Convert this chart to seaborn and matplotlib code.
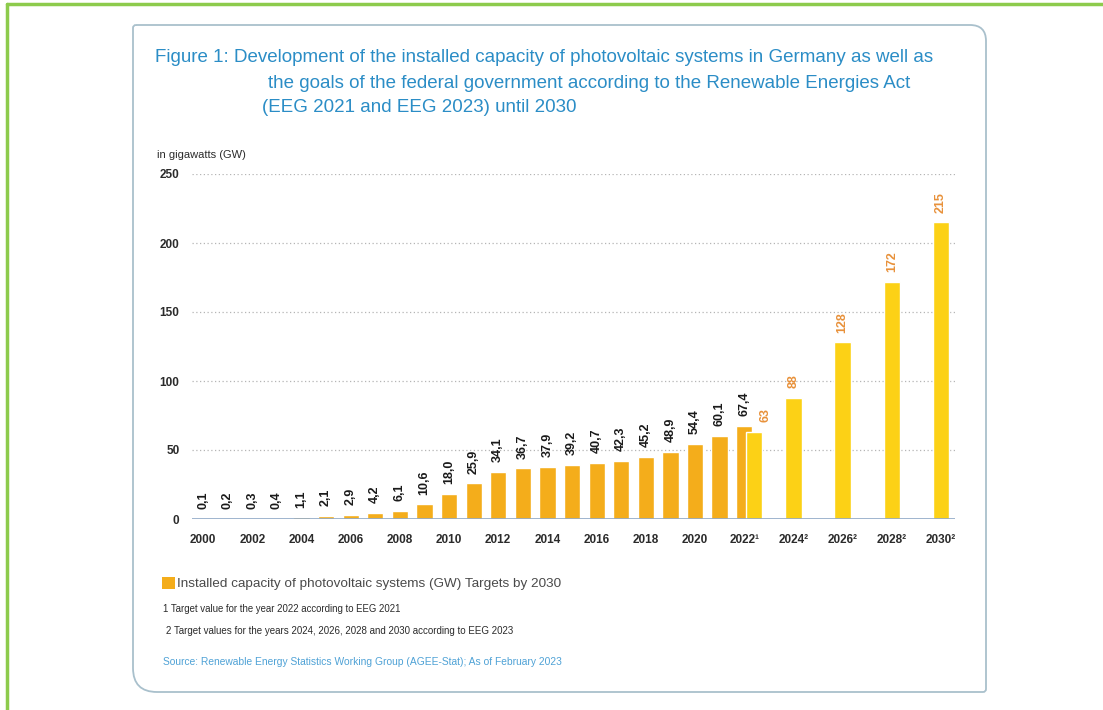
import numpy as np
import pandas as pd
import seaborn as sns
import matplotlib
matplotlib.use("Agg")
import matplotlib.pyplot as plt
from matplotlib.path import Path
from matplotlib.patches import PathPatch, Rectangle
from matplotlib.lines import Line2D

# ---------------- data ----------------
years_installed = list(range(2000, 2023))
installed_gw = [0.1, 0.2, 0.3, 0.4, 1.1, 2.1, 2.9, 4.2, 6.1, 10.6, 18.0, 25.9,
                34.1, 36.7, 37.9, 39.2, 40.7, 42.3, 45.2, 48.9, 54.4, 60.1, 67.4]
target_2022_year = [2022]
target_2022_gw = [63]
target_years = [2024, 2026, 2028, 2030]
target_gw = [88, 128, 172, 215]

tick_years = list(range(2000, 2031, 2))
tick_labels = ["2000", "2002", "2004", "2006", "2008", "2010", "2012", "2014",
               "2016", "2018", "2020", "2022¹", "2024²", "2026²", "2028²", "2030²"]
y_ticks = [0, 50, 100, 150, 200, 250]

title_lines = [
    "Figure 1: Development of the installed capacity of photovoltaic systems in Germany as well as",
    "the goals of the federal government according to the Renewable Energies Act",
    "(EEG 2021 and EEG 2023) until 2030",
]
y_unit = "in gigawatts (GW)"
legend_text = "Installed capacity of photovoltaic systems (GW) Targets by 2030"
footnotes = [
    "1 Target value for the year 2022 according to EEG 2021",
    "2 Target values for the years 2024, 2026, 2028 and 2030 according to EEG 2023",
]
source_text = "Source: Renewable Energy Statistics Working Group (AGEE-Stat); As of February 2023"

# ---------------- style ----------------
sns.set_theme(style="white")
plt.rcParams["font.family"] = ["Liberation Sans", "DejaVu Sans"]

C_INST = "#F4AD1B"
C_TARGET = "#FCD116"
C_TLABEL = "#E8913A"
C_TITLE = "#2B8DC6"
C_DARK = "#2b2b2b"

W, H = 1103, 710
fig = plt.figure(figsize=(W / 100, H / 100), dpi=100)
fig.patch.set_facecolor("white")


def fx(x):
    return x / W


def fy(y):
    return 1 - y / H


# outer green frame (left + top)
fig.add_artist(Line2D([fx(7), fx(7)], [fy(4), fy(710)], color="#8DCB4C", lw=2.5))
fig.add_artist(Line2D([fx(7), fx(1103)], [fy(4), fy(4)], color="#8DCB4C", lw=2.5))

# inner rounded box with different corner radii
x0, x1, y0, y1 = 133, 986, 25, 692
r_tl, r_tr, r_bl, r_br = 3, 16, 24, 3
pts = [
    (x0 + r_tl, y0), (x1 - r_tr, y0), (x1, y0), (x1, y0 + r_tr),
    (x1, y1 - r_br), (x1, y1), (x1 - r_br, y1),
    (x0 + r_bl, y1), (x0, y1), (x0, y1 - r_bl),
    (x0, y0 + r_tl), (x0, y0), (x0 + r_tl, y0),
]
codes = [Path.MOVETO, Path.LINETO, Path.CURVE3, Path.CURVE3,
         Path.LINETO, Path.CURVE3, Path.CURVE3,
         Path.LINETO, Path.CURVE3, Path.CURVE3,
         Path.LINETO, Path.CURVE3, Path.CURVE3]
path = Path([(fx(a), fy(b)) for a, b in pts], codes)
fig.add_artist(PathPatch(path, transform=fig.transFigure, facecolor="none",
                         edgecolor="#A9C0CC", lw=1.3))

# ---------------- axes ----------------
ax_left, ax_right, ax_top, ax_bottom = 192, 955, 174, 519
ax = fig.add_axes([fx(ax_left), fy(ax_bottom), (ax_right - ax_left) / W,
                   (ax_bottom - ax_top) / H])
ax.set_facecolor("none")

df_inst = pd.DataFrame({"year": years_installed, "gw": installed_gw})
df_t22 = pd.DataFrame({"year": np.array(target_2022_year, dtype=float) + 0.4,
                       "gw": target_2022_gw})
df_tgt = pd.DataFrame({"year": target_years, "gw": target_gw})

sns.barplot(data=df_inst, x="year", y="gw", native_scale=True, color=C_INST,
            saturation=1, width=0.66, errorbar=None, ax=ax, zorder=3)
sns.barplot(data=df_t22, x="year", y="gw", native_scale=True, color=C_TARGET,
            saturation=1, width=0.66, errorbar=None, ax=ax, zorder=4)
sns.barplot(data=df_tgt, x="year", y="gw", native_scale=True, color=C_TARGET,
            saturation=1, width=0.33, errorbar=None, ax=ax, zorder=3)

# value labels
for yr, v in zip(df_inst["year"], df_inst["gw"]):
    ax.annotate(f"{v:.1f}".replace(".", ","), (yr, v), xytext=(0, 7),
                textcoords="offset points", rotation=90, ha="center", va="bottom",
                fontsize=9, fontweight="bold", color="#1a1a1a", zorder=5)
for df, dx in ((df_t22, 8), (df_tgt, 0)):
    for yr, v in zip(df["year"], df["gw"]):
        ax.annotate(f"{v:g}", (yr, v), xytext=(dx, 7),
                    textcoords="offset points", rotation=90, ha="center",
                    va="bottom", fontsize=9, fontweight="bold",
                    color=C_TLABEL, zorder=5)

ax.set_xlim(1999.55, 2030.57)
ax.set_ylim(0, 250)
ax.set_xticks(tick_years)
ax.set_xticklabels(tick_labels)
ax.set_yticks(y_ticks)
ax.set_yticklabels([str(t) for t in y_ticks])
ax.tick_params(axis="x", length=0, pad=11, labelsize=8.5, labelcolor=C_DARK)
ax.tick_params(axis="y", length=0, pad=9, labelsize=8.5, labelcolor=C_DARK)
for lab in ax.get_xticklabels() + ax.get_yticklabels():
    lab.set_fontweight("bold")
ax.set_xlabel("")
ax.set_ylabel("")
for s in ax.spines.values():
    s.set_visible(False)
ax.set_axisbelow(True)
for t in y_ticks[1:]:
    ax.axhline(t, color="#b5b5b5", lw=0.9, ls=(0, (1, 2)), zorder=0)
ax.axhline(0, color="#8FA8C6", lw=1.2, zorder=6)

# ---------------- texts ----------------
title_pos = [(155, 58), (268, 84), (262, 108)]
for (tx, ty), line in zip(title_pos, title_lines):
    fig.text(fx(tx), fy(ty), line, color=C_TITLE, fontsize=13.5, va="center",
             ha="left")

fig.text(fx(157), fy(155), y_unit, fontsize=8, color=C_DARK, va="center")

# legend
fig.add_artist(Rectangle((fx(162), fy(589)), 13 / W, 12 / H,
                         transform=fig.transFigure, facecolor=C_INST,
                         edgecolor="none"))
fig.text(fx(177), fy(584), legend_text, fontsize=9.7, color="#4a4a4a",
         va="center")
fig.text(fx(163), fy(609), footnotes[0], fontsize=6.9, color=C_DARK,
         va="center")
fig.text(fx(166), fy(631), footnotes[1], fontsize=7, color=C_DARK,
         va="center")
fig.text(fx(163), fy(662), source_text, fontsize=7.4, color="#4FA2D6",
         va="center")

fig.savefig("out.png", dpi=100, facecolor="white")
